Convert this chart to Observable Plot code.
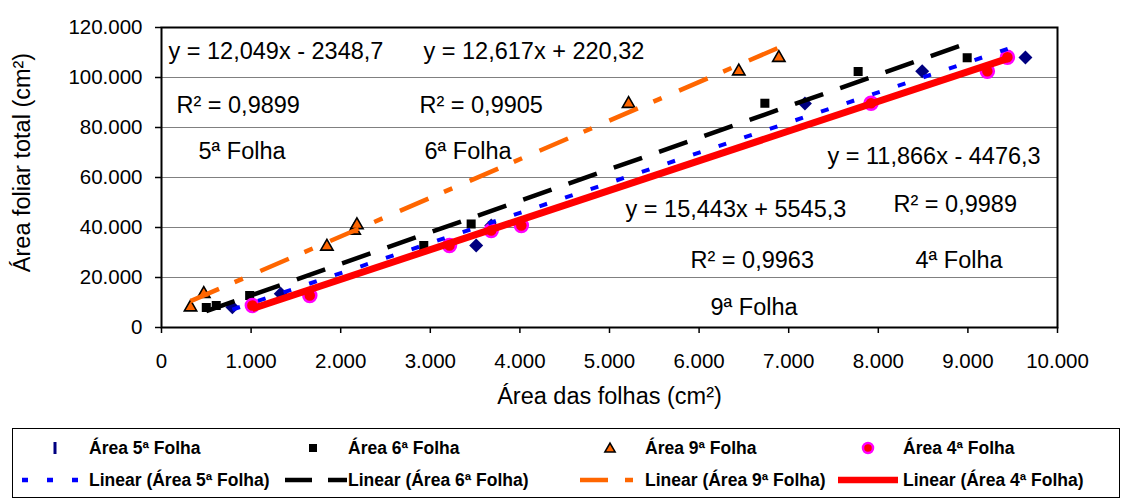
<!DOCTYPE html>
<html>
<head>
<meta charset="utf-8">
<script src="https://cdn.jsdelivr.net/npm/d3@7"></script>
<script src="https://cdn.jsdelivr.net/npm/@observablehq/plot@0.6"></script>
<style>
  html, body { margin: 0; padding: 0; background: #fff; }
  #page { position: relative; width: 1125px; height: 501px; font-family: "Liberation Sans", Arial, sans-serif; }
  #page svg { display: block; }
  #legend { position: absolute; left: 0; top: 415px; }
</style>
</head>
<body>
<div id="page"><div id="plot"></div><svg id="legend" width="1125" height="86"></svg></div>
<script>
// Leaf area per leaf position (x) against total leaf area of the plant (y), in cm²
const seriesNames = ["5ª Folha", "6ª Folha", "9ª Folha", "4ª Folha"];

const folha5X = [791, 1331, 3512, 3680, 7181, 8490, 9642];
const folha5Y = [8100, 13500, 32800, 40800, 89600, 102500, 108000];

const folha6X = [500, 611, 984, 2927, 3456, 6734, 7775, 8992];
const folha6Y = [8000, 8800, 12800, 32800, 41400, 89700, 102400, 107900];

const folha9X = [324, 472, 1846, 2150, 2181, 5213, 6443, 6890];
const folha9Y = [8100, 13500, 32400, 38800, 41000, 89500, 102500, 107900];

const folha4X = [1014, 1655, 3214, 3680, 4016, 7919, 9217, 9441];
const folha4Y = [8800, 12800, 32800, 38800, 40800, 89700, 102500, 108100];

// Linear trendlines y = a·x + b and their R²
const trendSlope = [12.049, 12.617, 15.443, 11.866];
const trendIntercept = [-2348.7, 220.32, 5545.3, -4476.3];
const trendR2 = ["0,9899", "0,9905", "0,9963", "0,9989"];

const xTicks = [0, 1000, 2000, 3000, 4000, 5000, 6000, 7000, 8000, 9000, 10000];
const yTicks = [0, 20000, 40000, 60000, 80000, 100000, 120000];

const xLabel = "Área das folhas (cm²)";
const yLabel = "Área foliar total (cm²)";

// Where each series' equation, R² and name are written (data units, start of text)
const eqPos   = [[78, 110400], [2924, 110400], [5179, 47400], [7433, 68600]];
const r2Pos   = [[167, 89000], [2879, 89000], [5904, 26800], [8170, 49400]];
const namePos = [[413, 70600], [2935, 70600], [6127, 8000], [8415, 26800]];

const colors = {
  diamond: "#000080", blue: "#0000FF", black: "#000000",
  orange: "#FF6600", red: "#FF0000", magenta: "#FF00FF", grid: "#808080"
};

const ptBR = d3.formatLocale({decimal: ",", thousands: ".", grouping: [3], currency: ["R$", ""]});
const fmt = ptBR.format(",.0f");
const dec = v => String(v).replace(".", ",");

const toRows = (xs, ys) => xs.map((x, i) => ({x, y: ys[i]}));
const s5 = toRows(folha5X, folha5Y);
const s6 = toRows(folha6X, folha6Y);
const s9 = toRows(folha9X, folha9Y);
const s4 = toRows(folha4X, folha4Y);
const allSeries = [s5, s6, s9, s4];

// Trendline spans the series' x extent
function trend(data, i) {
  const [x0, x1] = d3.extent(data, d => d.x);
  return [x0, x1].map(x => ({x, y: trendSlope[i] * x + trendIntercept[i]}));
}

const annotations = seriesNames.flatMap((name, i) => {
  const a = trendSlope[i], b = trendIntercept[i];
  const eq = `y = ${dec(a)}x ${b < 0 ? "-" : "+"} ${dec(Math.abs(b))}`;
  return [
    {x: eqPos[i][0], y: eqPos[i][1], text: eq},
    {x: r2Pos[i][0], y: r2Pos[i][1], text: `R² = ${trendR2[i]}`},
    {x: namePos[i][0], y: namePos[i][1], text: name}
  ];
});

const lineStyles = [
  {stroke: colors.blue, strokeWidth: 4, strokeDasharray: "8,19"},
  {stroke: colors.black, strokeWidth: 4.5, strokeDasharray: "30,18"},
  {stroke: colors.orange, strokeWidth: 4.5, strokeDasharray: "31,17,9,19"},
  {stroke: colors.red, strokeWidth: 7}
];

const chart = Plot.plot({
  width: 1125,
  height: 415,
  marginLeft: 161,
  marginRight: 68,
  marginTop: 27,
  marginBottom: 88,
  style: {fontFamily: "'Liberation Sans', Arial, sans-serif", background: "white", color: "black", overflow: "visible"},
  x: {domain: [0, 10000]},
  y: {domain: [0, 120000]},
  marks: [
    Plot.gridY(yTicks, {stroke: colors.grid, strokeOpacity: 1, strokeWidth: 1}),
    Plot.axisX(xTicks, {tickFormat: fmt, fontSize: 20.5, tickSize: 6, tickPadding: 20, label: null, strokeWidth: 1.5}),
    Plot.axisY(yTicks, {tickFormat: fmt, fontSize: 20.5, tickSize: 6, tickPadding: 13, label: null, strokeWidth: 1.5}),
    Plot.frame({stroke: "black", strokeWidth: 2}),

    Plot.dot(s5, {x: "x", y: "y", symbol: "diamond2", r: 6.3, fill: colors.diamond, stroke: "none"}),
    Plot.dot(s6, {x: "x", y: "y", symbol: "square", r: 5.1, fill: colors.black, stroke: "none"}),
    Plot.dot(s9, {x: "x", y: "y", symbol: "triangle", r: 4.6, fill: colors.orange, stroke: "black", strokeWidth: 1.6}),
    Plot.dot(s4, {x: "x", y: "y", symbol: "circle", r: 6.5, fill: colors.red, stroke: colors.magenta, strokeWidth: 2.5}),

    ...allSeries.map((s, i) => Plot.line(trend(s, i), {
      x: "x", y: "y", strokeLinecap: "butt", ...lineStyles[i]
    })),

    Plot.text(annotations, {x: "x", y: "y", text: "text", textAnchor: "start", fontSize: 23.5, fill: "black"}),
    Plot.text([xLabel], {frameAnchor: "bottom", textAnchor: "middle", dy: 76, fontSize: 23.5, fill: "black"}),
    Plot.text([yLabel], {frameAnchor: "left", textAnchor: "middle", dx: -139, dy: -15, rotate: -90, fontSize: 23.5, fill: "black"})
  ]
});
document.getElementById("plot").append(chart);

// Legend: marker row on top, trendline row below
const legend = d3.select("#legend");
const legendTextX = [89, 348, 645, 903];
const legendMarkX = [55, 313, 610, 868];
const legendLineX = [[22, 78], [285, 347], [580, 633], [838, 898]];
const legendLineDash = ["6,19", "27,16", "28,17,8", null];
const rowY = [33, 65];

legend.append("rect")
  .attr("x", 12.5).attr("y", 13.5).attr("width", 1107).attr("height", 69)
  .attr("fill", "white").attr("stroke", "#000").attr("stroke-width", 1);

// 5ª: thin navy bar
legend.append("rect").attr("x", legendMarkX[0] - 1.5).attr("y", rowY[0] - 6)
  .attr("width", 3).attr("height", 12).attr("fill", colors.diamond);
legend.append("path").attr("transform", `translate(${legendMarkX[1]},${rowY[0]})`)
  .attr("d", d3.symbol(d3.symbolSquare, 64)()).attr("fill", "black");
legend.append("path").attr("transform", `translate(${legendMarkX[2]},${rowY[0] + 1})`)
  .attr("d", d3.symbol(d3.symbolTriangle, 45)()).attr("fill", colors.orange)
  .attr("stroke", "black").attr("stroke-width", 1.6);
legend.append("circle").attr("cx", legendMarkX[3]).attr("cy", rowY[0]).attr("r", 5)
  .attr("fill", colors.red).attr("stroke", colors.magenta).attr("stroke-width", 2.5);

seriesNames.forEach((name, i) => {
  const [x0, x1] = legendLineX[i];
  legend.append("line").attr("x1", x0).attr("x2", x1).attr("y1", rowY[1]).attr("y2", rowY[1])
    .attr("stroke", lineStyles[i].stroke)
    .attr("stroke-width", i === 3 ? 6.5 : 4.5)
    .attr("stroke-dasharray", legendLineDash[i]);
  legend.append("text").attr("x", legendTextX[i]).attr("y", rowY[0]).attr("dy", "0.35em")
    .attr("font-family", "'Liberation Sans', Arial, sans-serif").attr("font-weight", "bold")
    .attr("font-size", 17.5).text(`Área ${name}`);
  legend.append("text").attr("x", legendTextX[i]).attr("y", rowY[1]).attr("dy", "0.35em")
    .attr("font-family", "'Liberation Sans', Arial, sans-serif").attr("font-weight", "bold")
    .attr("font-size", 17.5).text(`Linear (Área ${name})`);
});
</script>
</body>
</html>
